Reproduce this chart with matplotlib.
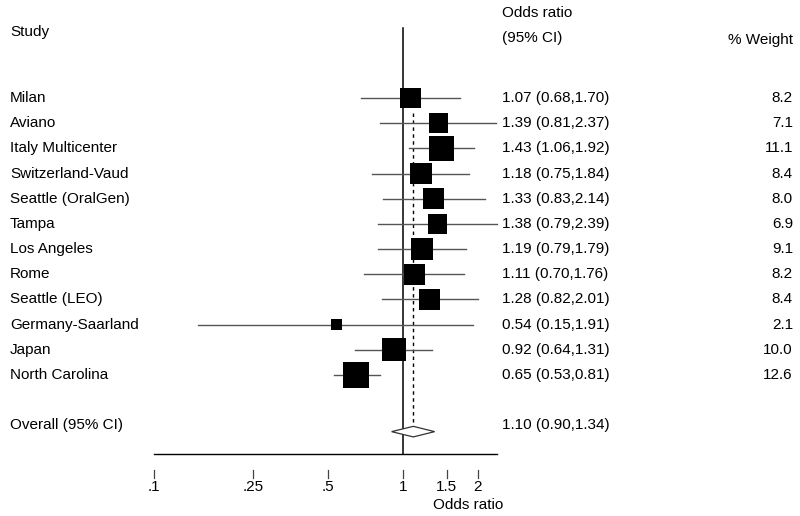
import numpy as np
import matplotlib
matplotlib.use("Agg")
import matplotlib.pyplot as plt
from matplotlib.patches import Polygon

plt.rcParams['font.family'] = ['Liberation Sans', 'DejaVu Sans']

studies = ["Milan", "Aviano", "Italy Multicenter", "Switzerland-Vaud", "Seattle (OralGen)",
           "Tampa", "Los Angeles", "Rome", "Seattle (LEO)", "Germany-Saarland", "Japan",
           "North Carolina"]
odds = [1.07, 1.39, 1.43, 1.18, 1.33, 1.38, 1.19, 1.11, 1.28, 0.54, 0.92, 0.65]
lower = [0.68, 0.81, 1.06, 0.75, 0.83, 0.79, 0.79, 0.70, 0.82, 0.15, 0.64, 0.53]
upper = [1.70, 2.37, 1.92, 1.84, 2.14, 2.39, 1.79, 1.76, 2.01, 1.91, 1.31, 0.81]
weights = [8.2, 7.1, 11.1, 8.4, 8.0, 6.9, 9.1, 8.2, 8.4, 2.1, 10.0, 12.6]
overall_label = "Overall (95% CI)"
overall = (1.10, 0.90, 1.34)
tick_vals = [0.1, 0.25, 0.5, 1, 1.5, 2]
tick_labels = [".1", ".25", ".5", "1", "1.5", "2"]

W, H, DPI = 800, 516, 100
fig = plt.figure(figsize=(W / DPI, H / DPI), dpi=DPI)
ax = fig.add_axes([0, 0, 1, 1])
ax.set_xscale('log')
# pixel mapping: px = 403 + 249*log10(x)
x0, ppd = 403, 249
ax.set_xlim(10 ** (-x0 / ppd), 10 ** ((W - x0) / ppd))
y0, step = 98, 25.18
ax.set_ylim((H - y0) / step, -y0 / step)
ax.axis('off')

def py(p):
    return (p - y0) / step

fs = 11
n = len(studies)
rows = np.arange(n)
overall_row = n + 1
axis_row = py(454)

# reference lines
ax.plot([1, 1], [py(28), axis_row], color='black', lw=1.1, zorder=1)
ax.plot([overall[0]] * 2, [py(113), overall_row], color='black', lw=1.0,
        ls=(0, (2.5, 2.5)), zorder=1)

# CI lines and boxes
for i in range(n):
    ax.plot([lower[i], upper[i]], [rows[i], rows[i]], color='#555555', lw=1.0, zorder=2)
side_px = 7.33 * np.sqrt(np.array(weights))
side_pt = side_px * 72 / DPI
ax.scatter(odds, rows, s=side_pt ** 2, marker='s', color='black', linewidths=0, zorder=3)

# overall diamond
yd = overall_row + 0.25
hh = 0.21
diamond = Polygon([[overall[1], yd], [overall[0], yd - hh], [overall[2], yd], [overall[0], yd + hh]],
                  closed=True, facecolor='white', edgecolor='#333333', lw=0.9, zorder=3)
ax.add_patch(diamond)

# x axis
ax.plot([0.1, 10 ** ((497 - x0) / ppd)], [axis_row, axis_row], color='black', lw=1.0)
for tv, tl in zip(tick_vals, tick_labels):
    ax.plot([tv, tv], [py(470), py(478)], color='#444444', lw=0.9)
    ax.text(tv, py(487), tl, ha='center', va='center', fontsize=fs)
ax.text(10 ** ((468 - x0) / ppd), py(505), "Odds ratio", ha='center', va='center', fontsize=fs)

# text columns (axes-fraction x)
tx = ax.get_yaxis_transform()
ax.text(10 / W, py(32), "Study", transform=tx, ha='left', va='center', fontsize=fs)
ax.text(502 / W, py(13), "Odds ratio", transform=tx, ha='left', va='center', fontsize=fs)
ax.text(502 / W, py(38), "(95% CI)", transform=tx, ha='left', va='center', fontsize=fs)
ax.text(793 / W, py(40), "% Weight", transform=tx, ha='right', va='center', fontsize=fs)

for i in range(n):
    ax.text(10 / W, rows[i], studies[i], transform=tx, ha='left', va='center', fontsize=fs)
    ax.text(502 / W, rows[i], f"{odds[i]:.2f} ({lower[i]:.2f},{upper[i]:.2f})", transform=tx,
            ha='left', va='center', fontsize=fs)
    ax.text(793 / W, rows[i], f"{weights[i]:.1f}", transform=tx, ha='right', va='center', fontsize=fs)

ax.text(10 / W, overall_row, overall_label, transform=tx, ha='left', va='center', fontsize=fs)
ax.text(502 / W, overall_row, f"{overall[0]:.2f} ({overall[1]:.2f},{overall[2]:.2f})", transform=tx,
        ha='left', va='center', fontsize=fs)

fig.savefig("out.png", dpi=DPI, facecolor='white')
